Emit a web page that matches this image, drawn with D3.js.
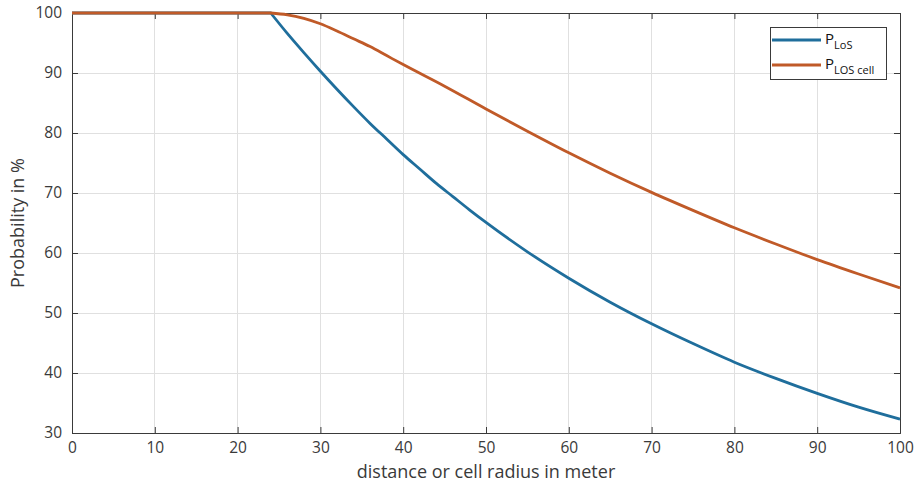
<!DOCTYPE html>
<html><head><meta charset="utf-8">
<script src="https://cdn.jsdelivr.net/npm/d3@7"></script>
<style>body{margin:0;background:#fff}svg{display:block}text{font-family:"Open Sans",sans-serif}</style>
</head><body><svg id="c" width="917" height="483"></svg>
<script>
const xTicks = [0,10,20,30,40,50,60,70,80,90,100];
const yTicks = [30,40,50,60,70,80,90,100];
const losDist = [0,24,26,28,30,32,34,36,38,40,42,44,46,48,50,55,60,65,70,75,80,85,90,95,100];
const losVal  = [100,100,96.6,93.4,90.3,87.3,84.4,81.6,79.0,76.4,74.0,71.6,69.4,67.2,65.1,60.2,55.8,51.8,48.2,44.9,41.8,39.1,36.6,34.3,32.3];
const cellDist = [0,24,26,28,30,32,34,36,38,40,45,50,55,60,65,70,75,80,85,90,95,100];
const cellVal  = [100,100,99.7,99.1,98.2,97.0,95.7,94.4,92.9,91.4,87.8,84.0,80.3,76.7,73.3,70.1,67.1,64.2,61.5,58.9,56.5,54.2];
const seriesNames = [["P","LoS"],["P","LOS cell"]];
const colors = ["#1f6e9c","#c05a28"];

const svg = d3.select("#c");
const m = {l:72,r:900,t:13,b:433};
const x = d3.scaleLinear().domain([0,100]).range([m.l,m.r]);
const y = d3.scaleLinear().domain([30,100]).range([m.b,m.t]);
const ax = "#3a3a3a";
const font = "'Open Sans',sans-serif";

// grid
svg.append("g").selectAll("line").data(xTicks).join("line")
  .attr("x1",d=>x(d)).attr("x2",d=>x(d)).attr("y1",m.t).attr("y2",m.b)
  .attr("stroke","#e0e0e0").attr("stroke-width",1).attr("shape-rendering","crispEdges");
svg.append("g").selectAll("line").data(yTicks).join("line")
  .attr("y1",d=>y(d)).attr("y2",d=>y(d)).attr("x1",m.l).attr("x2",m.r)
  .attr("stroke","#e0e0e0").attr("stroke-width",1).attr("shape-rendering","crispEdges");

// axes
const gx = svg.append("g").attr("transform",`translate(0,${m.b})`)
  .call(d3.axisBottom(x).tickValues(xTicks).tickSize(-6).tickPadding(9).tickFormat(d3.format("d")));
const gxt = svg.append("g").attr("transform",`translate(0,${m.t})`)
  .call(d3.axisTop(x).tickValues(xTicks).tickSize(-6).tickFormat(""));
const gy = svg.append("g").attr("transform",`translate(${m.l},0)`)
  .call(d3.axisLeft(y).tickValues(yTicks).tickSize(-6).tickPadding(10).tickFormat(d3.format("d")));
const gyr = svg.append("g").attr("transform",`translate(${m.r},0)`)
  .call(d3.axisRight(y).tickValues(yTicks).tickSize(-6).tickFormat(""));
[gx,gxt,gy,gyr].forEach(g=>{
  g.select(".domain").attr("stroke",ax).attr("stroke-width",1);
  g.selectAll(".tick line").attr("stroke",ax);
  g.selectAll("text").attr("fill",ax).style("font-size","15.5px").style("font-family",font);
});

// lines: flat part straight, descending part smooth
const curve = d3.line().x(d=>x(d[0])).y(d=>y(d[1])).curve(d3.curveMonotoneX);
function pathFor(ds, vs){
  const pts = ds.map((d,i)=>[d,vs[i]]);
  return "M" + x(pts[0][0]) + "," + y(pts[0][1]) + "L" + curve(pts.slice(1)).slice(1);
}
svg.append("path").attr("d",pathFor(losDist,losVal))
  .attr("fill","none").attr("stroke",colors[0]).attr("stroke-width",2.8);
svg.append("path").attr("d",pathFor(cellDist,cellVal))
  .attr("fill","none").attr("stroke",colors[1]).attr("stroke-width",2.8);

// axis labels
svg.append("text").attr("x",(m.l+m.r)/2).attr("y",478).attr("text-anchor","middle")
  .attr("fill",ax).style("font-size","18px").text("distance or cell radius in meter");
svg.append("text").attr("transform",`translate(24,${(m.t+m.b)/2}) rotate(-90)`).attr("text-anchor","middle")
  .attr("fill",ax).style("font-size","18px").text("Probability in %");

// legend
const lg = svg.append("g");
lg.append("rect").attr("x",770.5).attr("y",27.5).attr("width",116).attr("height",52)
  .attr("fill","#fff").attr("stroke",ax).attr("stroke-width",1);
seriesNames.forEach((s,i)=>{
  const yy = 40 + i*25;
  lg.append("line").attr("x1",772).attr("x2",821).attr("y1",yy).attr("y2",yy)
    .attr("stroke",colors[i]).attr("stroke-width",2.8);
  const t = lg.append("text").attr("x",825).attr("y",yy+4).attr("fill","#111").style("font-size","15px");
  t.append("tspan").text(s[0]);
  t.append("tspan").attr("dy",5).style("font-size","11px").text(s[1]);
});
</script></body></html>
